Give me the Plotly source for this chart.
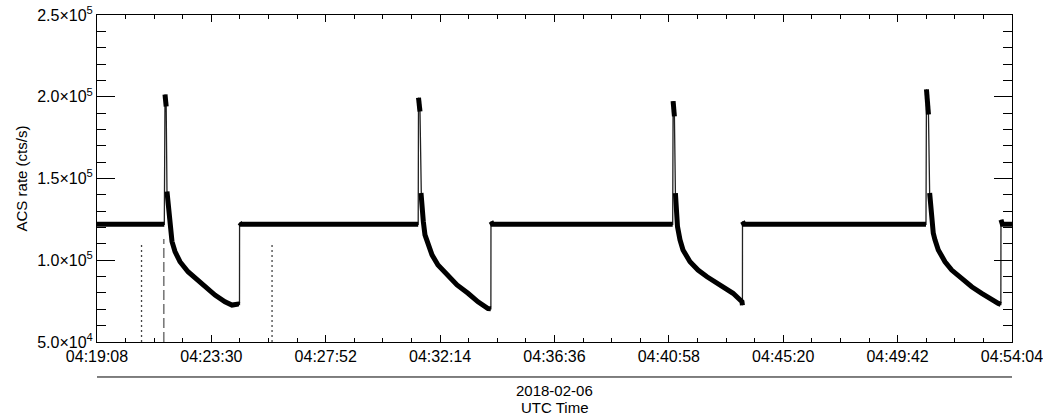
import pandas as pd
import plotly.graph_objects as go

# ---------------- data ----------------
t0 = pd.Timestamp("2018-02-06 04:19:08")

# seconds after 04:19:08
t_sec = [
    0.0, 154.2,
    155.8, 157.0, 158.5, 160.3, 162.6, 163.8, 167.2, 171.8, 178.7, 190.1, 208.5,
    224.5, 247.4, 270.3, 293.2, 309.2, 324.1, 326.4, 326.6, 330.0,
    735.8,
    736.5, 738.0, 739.9, 742.2, 743.3, 747.5, 751.3, 758.2, 767.4, 781.1, 801.7,
    824.7, 849.9, 872.8, 895.7, 902.3, 902.5, 906.0,
    1318.8,
    1319.7, 1321.0, 1322.7, 1325.0, 1328.0, 1329.8, 1335.5, 1342.4, 1358.4, 1376.8,
    1397.4, 1427.2, 1457.0, 1477.5, 1478.5, 1478.7, 1482.0,
    1899.0,
    1900.1, 1902.0, 1904.7, 1907.4, 1909.0, 1912.0, 1915.7, 1919.6, 1927.2, 1942.6,
    1957.9, 1980.8, 2003.7, 2026.6, 2049.5, 2064.7, 2070.5, 2070.8, 2074.0, 2096.0,
]
acs_rate = [
    122000, 122000,
    201400, 198000, 194000, 142100, 136000, 126000, 117500, 111400, 105300, 99100, 93000,
    89100, 83800, 78700, 74600, 72600, 73200, 73000, 123000, 122000,
    122000,
    199400, 197000, 191000, 141100, 134000, 123700, 115500, 109400, 103300, 97100, 91000,
    84900, 79800, 74600, 70500, 70300, 123700, 122000,
    122000,
    197300, 194000, 188000, 141100, 126700, 120600, 112500, 106300, 99100, 94000,
    89900, 84800, 79800, 74600, 72500, 123700, 122000,
    122000,
    204500, 200400, 189100, 141100, 136000, 126700, 116600, 112500, 106300, 99100,
    94000, 88900, 83800, 79800, 75600, 73600, 73000, 124700, 122000, 122000,
]

# vertical marker lines
marker_times = ["04:20:50", "04:21:41", "04:25:49"]
marker_tops = [109400, 113000, 109400]

# axis ticks
x_tick_labels = ["04:19:08", "04:23:30", "04:27:52", "04:32:14", "04:36:36",
                 "04:40:58", "04:45:20", "04:49:42", "04:54:04"]
y_tick_vals = [50000, 100000, 150000, 200000, 250000]
y_tick_text = ["5.0×10<sup>4</sup>", "1.0×10<sup>5</sup>", "1.5×10<sup>5</sup>",
               "2.0×10<sup>5</sup>", "2.5×10<sup>5</sup>"]
date_str = "2018-02-06"

# ---------------- build ----------------
def ts(s):
    return (t0 + pd.to_timedelta(s, unit="s")).strftime("%Y-%m-%d %H:%M:%S.%f")

x_dates = [ts(s) for s in t_sec]

# "band" version: same samples, broken at the fast jumps (drawn thin there)
band_x, band_y = [], []
for i, (xd, v) in enumerate(zip(x_dates, acs_rate)):
    if i > 0 and abs(v - acs_rate[i - 1]) > 30000:
        band_x.append(None)
        band_y.append(None)
    band_x.append(xd)
    band_y.append(v)

x_tick_vals = [f"{date_str} {lab}" for lab in x_tick_labels]
tick_secs = [(pd.Timestamp(v) - t0).total_seconds() for v in x_tick_vals]
x_minor_vals = []
for a, b in zip(tick_secs[:-1], tick_secs[1:]):
    step = (b - a) / 4
    for k in range(1, 4):
        x_minor_vals.append(ts(a + k * step))

FONT = "Liberation Sans, Arial, Helvetica, sans-serif"

fig = go.Figure()
fig.add_trace(go.Scatter(
    x=x_dates, y=acs_rate, mode="lines",
    line=dict(color="#222222", width=1.3), showlegend=False, hoverinfo="skip"))
fig.add_trace(go.Scatter(
    x=band_x, y=band_y, mode="lines", connectgaps=False,
    line=dict(color="black", width=5), showlegend=False, hoverinfo="skip"))

styles = [("#444444", "2px,3px", 1.3), ("#7a7a7a", "10px,4px", 1.6), ("#444444", "2px,3px", 1.3)]
for mt, top, (col, dash, w) in zip(marker_times, marker_tops, styles):
    xv = f"{date_str} {mt}"
    fig.add_shape(type="line", xref="x", yref="y", x0=xv, x1=xv, y0=50000, y1=top,
                  line=dict(color=col, width=w, dash=dash))

x_range_end = ts(tick_secs[-1] + 0.05)
fig.update_xaxes(
    type="date", automargin=False,
    range=[x_tick_vals[0], x_range_end],
    tickmode="array", tickvals=x_tick_vals, ticktext=x_tick_labels,
    ticklabeloverflow="allow",
    ticks="inside", ticklen=7, tickwidth=1, tickcolor="black",
    minor=dict(tickmode="array", tickvals=x_minor_vals, ticks="inside",
               ticklen=4, tickwidth=1, tickcolor="black"),
    showline=True, linecolor="black", linewidth=1, mirror="ticks",
    showgrid=False, zeroline=False,
    tickfont=dict(family=FONT, size=16, color="black"),
)
fig.update_yaxes(
    automargin=False,
    range=[50000, 250000],
    tickmode="array", tickvals=y_tick_vals, ticktext=y_tick_text,
    ticks="inside", ticklen=18, tickwidth=1, tickcolor="black",
    minor=dict(dtick=10000, ticks="inside", ticklen=9, tickwidth=1, tickcolor="black"),
    showline=True, linecolor="black", linewidth=1, mirror="ticks",
    showgrid=False, zeroline=False,
    tickfont=dict(family=FONT, size=16, color="black"),
)

fig.add_shape(type="line", xref="paper", yref="paper", x0=0, x1=1, y0=-0.107, y1=-0.107,
              line=dict(color="black", width=1))
fig.add_annotation(xref="paper", yref="paper", x=0.5, y=-0.1498, text=date_str,
                   showarrow=False, font=dict(family=FONT, size=15, color="black"),
                   xanchor="center", yanchor="middle")
fig.add_annotation(xref="paper", yref="paper", x=0.5, y=-0.2018, text="UTC Time",
                   showarrow=False, font=dict(family=FONT, size=15, color="black"),
                   xanchor="center", yanchor="middle")
fig.add_annotation(xref="paper", yref="paper", x=-0.082, y=0.5, text="ACS rate (cts/s)",
                   textangle=-90, showarrow=False,
                   font=dict(family=FONT, size=15, color="black"),
                   xanchor="center", yanchor="middle")

fig.update_layout(
    width=1043, height=417,
    margin=dict(l=97, r=31, t=15, b=75),
    paper_bgcolor="white", plot_bgcolor="white",
    font=dict(family=FONT, color="black"),
)

fig.write_html("out.html")
